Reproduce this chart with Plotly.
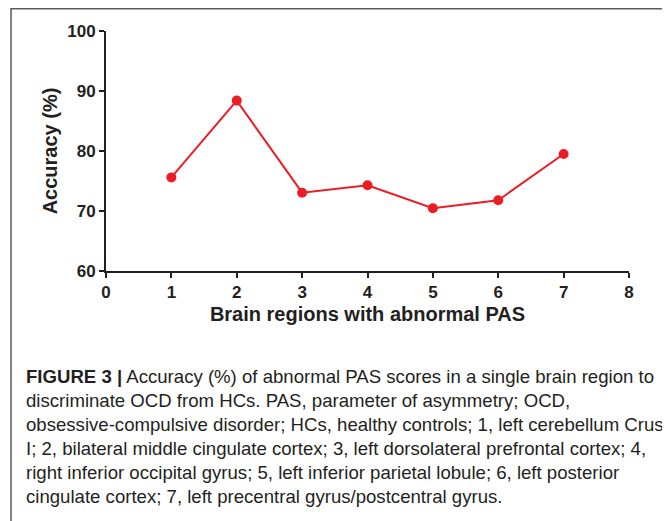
import plotly.graph_objects as go

regions = [1, 2, 3, 4, 5, 6, 7]
accuracy = [75.6, 88.4, 73.05, 74.3, 70.45, 71.8, 79.5]
x_ticks = [0, 1, 2, 3, 4, 5, 6, 7, 8]
y_ticks = [60, 70, 80, 90, 100]
x_title = "Brain regions with abnormal PAS"
y_title = "Accuracy (%)"
caption_lines = [
    "<b>FIGURE 3 |</b> Accuracy (%) of abnormal PAS scores in a single brain region to",
    "discriminate OCD from HCs. PAS, parameter of asymmetry; OCD,",
    "obsessive-compulsive disorder; HCs, healthy controls; 1, left cerebellum Crus",
    "I; 2, bilateral middle cingulate cortex; 3, left dorsolateral prefrontal cortex; 4,",
    "right inferior occipital gyrus; 5, left inferior parietal lobule; 6, left posterior",
    "cingulate cortex; 7, left precentral gyrus/postcentral gyrus.",
]

# the page body adds an 8px offset; the figure is laid out in page pixels minus 8
OFF = 8
W, H = 670 - OFF, 521 - OFF
L, T = 106 - OFF, 31 - OFF
R = W - (629 - OFF)
B = H - (271 - OFF)
PW, PH = W - L - R, H - T - B

def px(x):
    return (x - OFF - L) / PW

def py(y):
    return (H - B - (y - OFF)) / PH

RED = "#ec1c24"
INK = "#231f20"
TICKFONT = dict(family="Liberation Sans", size=17, color=INK)
TITLEFONT = dict(family="Liberation Sans", size=20, color=INK)

fig = go.Figure()
fig.add_trace(go.Scatter(
    x=regions, y=accuracy, mode="lines+markers",
    line=dict(color=RED, width=2),
    marker=dict(color=RED, size=10),
    showlegend=False, cliponaxis=False,
))

fig.update_layout(
    width=W, height=H,
    margin=dict(l=L, r=R, t=T, b=B, pad=0),
    paper_bgcolor="white", plot_bgcolor="white",
    xaxis=dict(
        range=[0, 8], tickvals=x_ticks, ticktext=[f"<b>{v}</b>" for v in x_ticks],
        showgrid=False, zeroline=False, showline=True, linecolor=INK, linewidth=2,
        ticks="outside", ticklen=5, tickwidth=2, tickcolor=INK,
        tickfont=TICKFONT,
        title=dict(text=f"<b>{x_title}</b>", font=TITLEFONT, standoff=6),
    ),
    yaxis=dict(
        range=[60, 100], tickvals=y_ticks, ticktext=[f"<b>{v}</b>" for v in y_ticks],
        showgrid=False, zeroline=False, showline=True, linecolor=INK, linewidth=2,
        ticks="outside", ticklen=5, tickwidth=2, tickcolor=INK,
        tickfont=TICKFONT,
        title=dict(text=f"<b>{y_title}</b>", font=TITLEFONT, standoff=4),
    ),
)

# figure border (left, top, right)
top = py(OFF + 0.75)
fig.add_shape(type="path", xref="paper", yref="paper",
              path=f"M {px(11)} {py(540)} L {px(11)} {top} L {px(668)} {top} L {px(668)} {py(540)}",
              line=dict(color="#5a5a5a", width=1.5))

for i, line in enumerate(caption_lines):
    fig.add_annotation(
        text=line, xref="paper", yref="paper",
        x=px(24), y=py(376 + 24 * i), xanchor="left", yanchor="middle",
        showarrow=False, align="left",
        font=dict(family="Liberation Sans", size=18.6, color=INK),
    )

fig.write_html("out.html")
